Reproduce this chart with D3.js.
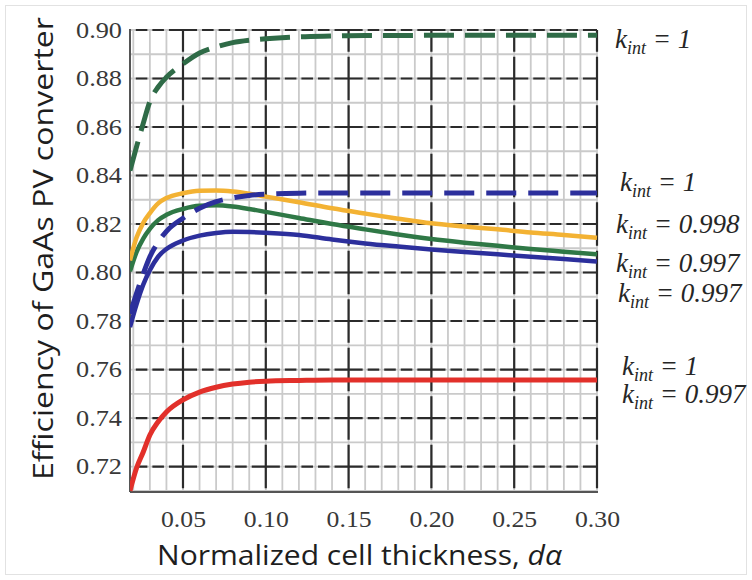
<!DOCTYPE html>
<html>
<head>
<meta charset="utf-8">
<script src="https://cdn.jsdelivr.net/npm/d3@7"></script>
<style>
  body { margin: 0; background: #fff; }
  svg { display: block; }
  .serif { font-family: "Liberation Serif", "DejaVu Serif", "Times New Roman", serif; }
  .sans { font-family: "Open Sans", "Noto Sans", sans-serif; }
</style>
</head>
<body>
<svg id="chart" width="752" height="580"></svg>
<script>
// normalized cell thickness samples (d*alpha)
var thickness = [0.018, 0.022, 0.026, 0.030, 0.035, 0.040, 0.050, 0.060, 0.070, 0.080, 0.090,
                 0.100, 0.120, 0.140, 0.160, 0.180, 0.200, 0.220, 0.240, 0.260, 0.280, 0.300];

// efficiency, one array per curve
var greenDashed = [0.8420, 0.8520, 0.8615, 0.8705, 0.8765, 0.8805, 0.8860, 0.8905, 0.8930, 0.8948, 0.8958,
                   0.8964, 0.8972, 0.8975, 0.8977, 0.8977, 0.8978, 0.8978, 0.8978, 0.8978, 0.8978, 0.8978];
var blueDashed  = [0.7830, 0.7915, 0.7995, 0.8065, 0.8125, 0.8170, 0.8224, 0.8265, 0.8292, 0.8308, 0.8318,
                   0.8323, 0.8327, 0.8328, 0.8328, 0.8328, 0.8328, 0.8328, 0.8328, 0.8328, 0.8328, 0.8328];
var orangeSolid = [0.8050, 0.8145, 0.8205, 0.8245, 0.8285, 0.8307, 0.8327, 0.8337, 0.8338, 0.8334, 0.8325,
                   0.8313, 0.8290, 0.8265, 0.8243, 0.8222, 0.8203, 0.8190, 0.8178, 0.8165, 0.8155, 0.8143];
var greenSolid  = [0.8005, 0.8085, 0.8140, 0.8180, 0.8216, 0.8238, 0.8262, 0.8275, 0.8277, 0.8272, 0.8262,
                   0.8250, 0.8225, 0.8200, 0.8178, 0.8157, 0.8138, 0.8123, 0.8110, 0.8097, 0.8086, 0.8075];
var blueSolid   = [0.7775, 0.7870, 0.7950, 0.8010, 0.8065, 0.8097, 0.8132, 0.8152, 0.8163, 0.8168, 0.8167,
                   0.8164, 0.8155, 0.8136, 0.8120, 0.8107, 0.8095, 0.8085, 0.8075, 0.8065, 0.8056, 0.8045];
var redSolid    = [0.7100, 0.7195, 0.7260, 0.7330, 0.7385, 0.7425, 0.7475, 0.7507, 0.7527, 0.7540, 0.7548,
                   0.7552, 0.7555, 0.7557, 0.7557, 0.7557, 0.7557, 0.7557, 0.7557, 0.7557, 0.7557, 0.7557];

var xTicks = [0.05, 0.10, 0.15, 0.20, 0.25, 0.30];
var yTicks = [0.72, 0.74, 0.76, 0.78, 0.80, 0.82, 0.84, 0.86, 0.88, 0.90];
var kintValues = ["1", "1", "0.998", "0.997", "0.997", "1", "0.997"];

// label placement (pixels), kept apart from the data
var kintPos = [[615, 48], [620, 191], [616, 233], [616, 272], [618, 302], [622, 375], [622, 403]];

var svg = d3.select("#chart");

// faint frame round the figure
svg.append("rect")
    .attr("x", 5.5).attr("y", 5.5)
    .attr("width", 741).attr("height", 569)
    .attr("fill", "none")
    .attr("stroke", "#e2e2e2");

var x = d3.scaleLinear().domain([0.018, 0.30]).range([130, 597]);
var y = d3.scaleLinear().domain([0.7095, 0.90]).range([492, 30]);

var x0 = x.range()[0], x1 = x.range()[1];
var yTop = y.range()[1], yBot = y.range()[0];

var grid = svg.append("g").attr("class", "grid");

// minor grid, light gray every 0.01
var minorX = d3.range(2, 31).map(function(d) { return d / 100; });
var minorY = d3.range(71, 91).map(function(d) { return d / 100; });

grid.selectAll(".minor-x")
    .data(minorX)
    .enter().append("line")
    .attr("x1", function(d) { return x(d); })
    .attr("x2", function(d) { return x(d); })
    .attr("y1", yTop).attr("y2", yBot)
    .attr("stroke", "#cacaca")
    .attr("stroke-width", 1.8);

grid.selectAll(".minor-y")
    .data(minorY)
    .enter().append("line")
    .attr("x1", x0).attr("x2", x1)
    .attr("y1", function(d) { return y(d); })
    .attr("y2", function(d) { return y(d); })
    .attr("stroke", "#cacaca")
    .attr("stroke-width", 1.8);

// major grid: black dashes broken where minor lines cross
var mx = x(0.01) - x(0), gx = 5;
var periodH = 5 * mx;
var dashH = [mx - gx, gx, mx - gx, gx, mx - gx, gx, 2 * mx - gx, gx].join(",");
var offH = ((-(x(0.01) + gx / 2 - x0)) % periodH + periodH) % periodH;

var my = y(0.89) - y(0.90), gy = 5;
var periodV = 2 * my;
var dashV = [2 * my - gy, gy].join(",");
var offV = ((-(y(0.89) + gy / 2 - yTop)) % periodV + periodV) % periodV;

grid.selectAll(".major-y")
    .data(yTicks)
    .enter().append("line")
    .attr("x1", x0).attr("x2", x1)
    .attr("y1", function(d) { return y(d); })
    .attr("y2", function(d) { return y(d); })
    .attr("stroke", "#2b2b2b")
    .attr("stroke-width", 2.2)
    .attr("stroke-dasharray", dashH)
    .attr("stroke-dashoffset", offH);

grid.selectAll(".major-x")
    .data(xTicks)
    .enter().append("line")
    .attr("x1", function(d) { return x(d); })
    .attr("x2", function(d) { return x(d); })
    .attr("y1", yTop).attr("y2", yBot)
    .attr("stroke", "#2b2b2b")
    .attr("stroke-width", 2.2)
    .attr("stroke-dasharray", dashV)
    .attr("stroke-dashoffset", offV);

// solid left and bottom edges
grid.append("line")
    .attr("x1", x0).attr("x2", x0).attr("y1", yTop - 1).attr("y2", yBot)
    .attr("stroke", "#555").attr("stroke-width", 2);
grid.append("line")
    .attr("x1", x0).attr("x2", x1 + 1).attr("y1", yBot).attr("y2", yBot)
    .attr("stroke", "#555").attr("stroke-width", 2);

// curves
svg.append("clipPath").attr("id", "plot-clip")
    .append("rect")
    .attr("x", x0).attr("y", yTop - 4)
    .attr("width", x1 - x0 + 2).attr("height", yBot - yTop + 4);

var line = d3.line()
    .x(function(d, i) { return x(thickness[i]); })
    .y(function(d) { return y(d); })
    .curve(d3.curveMonotoneX);

var curves = [
    {values: redSolid,    color: "#e2302a", width: 5,   dash: null},
    {values: blueSolid,   color: "#2c2f9c", width: 4.5, dash: null},
    {values: greenSolid,  color: "#2f7846", width: 4.5, dash: null},
    {values: orangeSolid, color: "#f3b233", width: 4.5, dash: null},
    {values: blueDashed,  color: "#2c2f9c", width: 5,   dash: "30,12"},
    {values: greenDashed, color: "#2f6b47", width: 5,   dash: "30,11"}
];

svg.append("g")
    .attr("clip-path", "url(#plot-clip)")
    .selectAll("path")
    .data(curves)
    .enter().append("path")
    .attr("fill", "none")
    .attr("stroke", function(d) { return d.color; })
    .attr("stroke-width", function(d) { return d.width; })
    .attr("stroke-dasharray", function(d) { return d.dash; })
    .attr("d", function(d) { return line(d.values); });

// tick labels
svg.append("g")
    .selectAll("text")
    .data(yTicks)
    .enter().append("text")
    .attr("class", "serif")
    .attr("x", 122)
    .attr("y", function(d) { return y(d); })
    .attr("dy", "0.34em")
    .attr("text-anchor", "end")
    .attr("font-size", 23)
    .attr("fill", "#383838")
    .attr("textLength", 46)
    .attr("lengthAdjust", "spacingAndGlyphs")
    .text(function(d) { return d.toFixed(2); });

svg.append("g")
    .selectAll("text")
    .data(xTicks)
    .enter().append("text")
    .attr("class", "serif")
    .attr("x", function(d) { return x(d) - 22; })
    .attr("y", 527)
    .attr("font-size", 23)
    .attr("fill", "#383838")
    .attr("textLength", 45)
    .attr("lengthAdjust", "spacingAndGlyphs")
    .text(function(d) { return d.toFixed(2); });

// axis titles
var xTitle = svg.append("text")
    .attr("class", "sans")
    .attr("x", 157)
    .attr("y", 565)
    .attr("font-size", 28)
    .attr("fill", "#1e1e1e")
    .attr("textLength", 405)
    .attr("lengthAdjust", "spacingAndGlyphs");
xTitle.append("tspan").text("Normalized cell thickness, ");
xTitle.append("tspan").attr("font-style", "italic").text("d\u03b1");

svg.append("text")
    .attr("class", "sans")
    .attr("transform", "translate(53,480) rotate(-90)")
    .attr("font-size", 28)
    .attr("fill", "#1e1e1e")
    .attr("textLength", 463)
    .attr("lengthAdjust", "spacingAndGlyphs")
    .text("Efficiency of GaAs PV converter");

// k_int labels
var kLabels = svg.append("g")
    .selectAll("text")
    .data(kintValues)
    .enter().append("text")
    .attr("class", "serif")
    .attr("x", function(d, i) { return kintPos[i][0]; })
    .attr("y", function(d, i) { return kintPos[i][1]; })
    .attr("font-style", "italic")
    .attr("font-size", 27)
    .attr("fill", "#262626");

kLabels.append("tspan").text("k");
kLabels.append("tspan")
    .attr("font-size", 18)
    .attr("dy", 6)
    .text("int");
kLabels.append("tspan")
    .attr("dy", -6)
    .text(function(d) { return " = " + d; });
</script>
</body>
</html>
